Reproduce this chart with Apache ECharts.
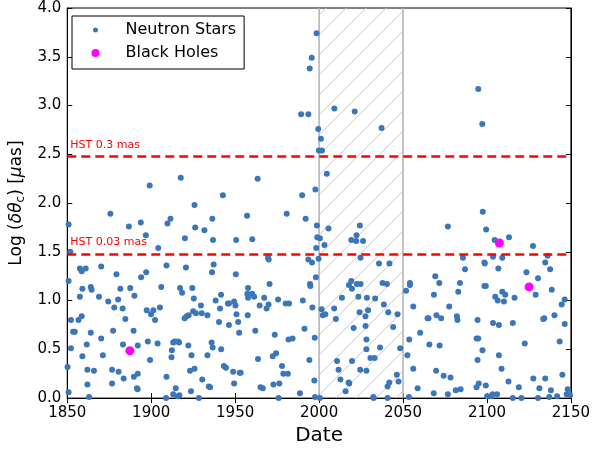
<!DOCTYPE html>
<html>
<head>
<meta charset="utf-8">
<script src="https://cdn.jsdelivr.net/npm/echarts@6/dist/echarts.min.js"></script>
<style>
  html, body { margin: 0; padding: 0; background: #fff; }
  #chart { width: 593px; height: 451px; }
</style>
</head>
<body>
<div id="chart"></div>
<script>
// neutron stars: date, log(dtheta_c)
const nsDate = [
  1875.7, 1850.8, 1893.8, 1886.7, 1909.7, 1896.8, 1904.2, 1851.8, 1857.5, 1861.0,
  1858.6, 1870.2, 1879.3, 1909.1, 1850.8, 1897.0, 1894.0, 1864.0, 1859.0, 1864.5,
  1906.0, 1881.6, 1887.5, 1857.5, 1868.9, 1890.0, 1874.4, 1880.3, 1878.0, 1883.0,
  1905.2, 1897.3, 1901.3, 1899.9, 1902.3, 1884.6, 1858.6, 1856.7, 1852.2, 1853.5,
  1854.5, 1864.0, 1877.3, 1889.5, 1870.2, 1861.6, 1883.2, 1892.0, 1898.0, 1903.8,
  1852.2, 1871.2, 1859.0, 1899.3, 1862.0, 1865.9, 1876.7, 1880.6, 1892.0, 1889.7,
  1883.6, 1909.1, 1862.0, 1876.7, 1891.5, 1891.9, 1850.8, 1863.0, 1850.2,
  1942.7, 1925.8, 1911.5, 1957.1, 1936.4, 1926.2, 1931.7, 1920.1, 1936.8, 1950.6,
  1960.2, 1969.6, 1970.0, 1920.7, 1937.2, 1936.2, 1950.4, 1917.2, 1918.4, 1924.5,
  1957.7, 1970.5, 1957.3, 1960.2, 1957.7, 1961.3, 1967.3, 1925.4, 1938.4, 1941.6,
  1945.7, 1946.3, 1949.4, 1950.2, 1929.6, 1941.0, 1964.6, 1969.9, 1968.7, 1925.0,
  1926.6, 1930.1, 1933.5, 1922.3, 1921.1, 1919.9, 1950.8, 1957.5, 1940.4, 1946.3,
  1951.8, 1952.4, 1962.0, 1913.1, 1914.0, 1916.0, 1916.6, 1922.1, 1936.0, 1936.6,
  1941.7, 1912.3, 1912.1, 1924.0, 1933.5, 1963.6, 1943.3, 1944.5, 1923.1, 1925.8,
  1948.8, 1952.7, 1953.3, 1930.4, 1949.4, 1934.3, 1935.1, 1914.6, 1923.7, 1965.1,
  1966.5, 1913.1, 1915.8, 1916.8, 1928.4, 1908.9,
  1989.9, 1997.8, 1980.7, 1992.0, 1998.7, 2005.6, 2024.3, 2022.3, 2019.2, 2022.1,
  2026.2, 1998.9, 2000.5, 2003.2, 1998.3, 1993.6, 1995.8, 1999.7, 2024.7, 1998.1,
  1994.6, 1994.8, 2019.2, 2017.8, 2019.6, 2022.5, 2024.7, 1975.6, 1990.3, 2013.6,
  2023.4, 2028.5, 2033.4, 1980.1, 1982.1, 1996.0, 2001.5, 2002.2, 2003.7, 2009.0,
  2010.0, 2024.1, 2029.2, 2027.6, 2027.7, 1973.6, 1991.3, 2020.6, 1997.4, 1981.8,
  1984.2, 2028.2, 1974.4, 1972.4, 2028.2, 2030.6, 1994.2, 2010.7, 2019.6, 1977.9,
  2011.6, 2024.5, 2028.2, 1978.7, 1981.4, 1972.8, 1976.3, 1997.2, 2012.7, 2017.6,
  2018.0, 1988.6, 2015.8, 1997.6, 2000.5, 2032.3, 1975.9,
  2076.7, 2035.7, 2041.9, 2085.7, 2086.9, 2037.8, 2040.4, 2069.2, 2071.6, 2083.9,
  2054.1, 2054.1, 2051.8, 2068.4, 2082.9, 2038.6, 2056.1, 2077.5, 2041.2, 2046.7,
  2064.6, 2065.2, 2069.9, 2072.7, 2082.1, 2082.4, 2094.4, 2044.1, 2060.2, 2053.7,
  2065.7, 2071.8, 2093.8, 2094.8, 2036.3, 2048.3, 2033.1, 2052.6, 2094.4, 2056.1,
  2069.7, 2074.2, 2078.3, 2046.3, 2047.3, 2041.8, 2040.8, 2058.7, 2068.3, 2076.7,
  2081.4, 2084.3, 2093.8, 2095.1, 2053.5, 2032.5, 2040.8,
  2097.5, 2099.5, 2104.6, 2113.1, 2127.4, 2136.1, 2134.7, 2137.6, 2103.6, 2109.1,
  2098.5, 2098.7, 2106.8, 2123.5, 2130.4, 2098.5, 2099.3, 2138.6, 2109.1, 2110.9,
  2129.0, 2104.9, 2106.4, 2110.1, 2116.4, 2146.3, 2144.5, 2140.2, 2133.5, 2134.1,
  2103.6, 2107.1, 2115.4, 2146.3, 2122.5, 2143.3, 2097.3, 2107.1, 2108.7, 2112.8,
  2127.6, 2134.7, 2144.9, 2099.3, 2119.0, 2131.2, 2138.1, 2148.1, 2100.1, 2102.7,
  2103.3, 2106.0, 2115.4, 2120.5, 2130.4, 2137.1, 2141.8, 2147.5, 2149.5,
  1899.1, 1917.6, 1963.4, 1989.3, 1993.6, 1994.4, 1995.6, 1998.5, 2009.1, 2021.2,
  1999.5, 2001.1, 1999.9, 2001.7, 2037.2, 2094.8, 2097.2, 2004.6
];
const nsLog = [
  1.89, 1.78, 1.80, 1.76, 1.79, 1.67, 1.54, 1.50, 1.33, 1.33,
  1.30, 1.35, 1.27, 1.36, 1.20, 1.29, 1.24, 1.14, 1.12, 1.11,
  1.14, 1.12, 1.13, 1.04, 1.04, 1.05, 0.99, 1.01, 0.93, 0.92,
  0.93, 0.90, 0.90, 0.86, 0.80, 0.81, 0.84, 0.80, 0.80, 0.68,
  0.68, 0.67, 0.69, 0.69, 0.61, 0.55, 0.55, 0.54, 0.58, 0.56,
  0.51, 0.44, 0.43, 0.39, 0.29, 0.28, 0.29, 0.27, 0.25, 0.22,
  0.20, 0.22, 0.14, 0.15, 0.10, 0.09, 0.06, 0.01, 0.32,
  2.08, 1.98, 1.84, 1.87, 1.84, 1.75, 1.72, 1.64, 1.62, 1.62,
  1.63, 1.44, 1.42, 1.34, 1.37, 1.29, 1.27, 1.13, 1.08, 1.13,
  1.13, 1.17, 1.07, 1.07, 1.03, 1.04, 1.03, 1.02, 1.00, 1.06,
  0.97, 0.97, 0.99, 0.95, 0.95, 0.92, 0.95, 0.96, 0.92, 0.89,
  0.87, 0.87, 0.85, 0.85, 0.84, 0.82, 0.86, 0.85, 0.78, 0.75,
  0.78, 0.67, 0.69, 0.57, 0.58, 0.58, 0.57, 0.54, 0.57, 0.52,
  0.50, 0.49, 0.42, 0.44, 0.44, 0.40, 0.33, 0.31, 0.28, 0.30,
  0.27, 0.26, 0.26, 0.19, 0.15, 0.12, 0.11, 0.10, 0.07, 0.11,
  0.10, 0.04, 0.02, 0.03, 0.00, 0.00,
  2.08, 2.14, 1.89, 1.84, 1.77, 1.74, 1.77, 1.67, 1.62, 1.61,
  1.61, 1.65, 1.64, 1.57, 1.54, 1.42, 1.39, 1.43, 1.44, 1.24,
  1.17, 1.15, 1.20, 1.16, 1.12, 1.17, 1.17, 1.01, 1.00, 1.03,
  1.04, 1.03, 1.02, 0.97, 0.97, 0.93, 0.91, 0.85, 0.86, 0.92,
  0.81, 0.88, 0.90, 0.84, 0.74, 0.65, 0.71, 0.72, 0.62, 0.60,
  0.61, 0.60, 0.46, 0.43, 0.50, 0.41, 0.39, 0.38, 0.38, 0.33,
  0.29, 0.29, 0.28, 0.25, 0.25, 0.14, 0.15, 0.18, 0.19, 0.16,
  0.15, 0.05, 0.07, 0.01, 0.00, 0.01, 0.00,
  1.76, 1.38, 1.38, 1.44, 1.32, 1.18, 1.17, 1.25, 1.18, 1.18,
  1.18, 1.16, 1.10, 1.06, 1.09, 0.96, 0.94, 0.94, 0.88, 0.86,
  0.82, 0.82, 0.85, 0.82, 0.84, 0.80, 0.80, 0.73, 0.67, 0.60,
  0.55, 0.54, 0.61, 0.61, 0.52, 0.51, 0.41, 0.44, 0.39, 0.30,
  0.28, 0.23, 0.21, 0.24, 0.17, 0.16, 0.12, 0.10, 0.05, 0.04,
  0.08, 0.09, 0.11, 0.15, 0.01, 0.00, 0.00,
  1.91, 1.73, 1.62, 1.65, 1.56, 1.46, 1.39, 1.32, 1.45, 1.44,
  1.39, 1.38, 1.33, 1.29, 1.23, 1.15, 1.15, 1.11, 1.09, 1.06,
  1.06, 1.04, 1.00, 0.99, 1.03, 1.01, 0.96, 0.85, 0.81, 0.82,
  0.77, 0.75, 0.77, 0.76, 0.56, 0.58, 0.49, 0.44, 0.30, 0.17,
  0.20, 0.20, 0.24, 0.13, 0.11, 0.10, 0.08, 0.09, 0.02, 0.02,
  0.04, 0.04, 0.00, 0.00, 0.00, 0.01, 0.02, 0.04, 0.03,
  2.18, 2.26, 2.25, 2.91, 2.91, 3.38, 3.49, 3.74, 2.97, 2.94,
  2.76, 2.66, 2.54, 2.54, 2.77, 3.17, 2.81, 2.30
];

// black holes
const bhDate = [1887.3, 2107.4, 2125.1];
const bhLog = [0.485, 1.59, 1.14];

// HST limits (log of 0.3 mas and 0.03 mas in uas)
const hstNames = ['HST 0.3 mas', 'HST 0.03 mas'];
const hstLevels = [2.477, 1.477];

// the shaded span of dates
const spanDates = [[2000, 2050]];

const FONT = 'DejaVu Sans';

/**
 * diagonal hatching over the span, clipped to its box
 */
const renderHatch = (params, api) => {
  const topLeft = api.coord([api.value(0), 4]);
  const bottomRight = api.coord([api.value(1), 0]);
  const x0 = topLeft[0], y0 = topLeft[1];
  const x1 = bottomRight[0], y1 = bottomRight[1];
  const children = [];
  for (let c = x0 + y0 + 7; c < x1 + y1; c += 20) {
    const sx = Math.max(x0, c - y1);
    const ex = Math.min(x1, c - y0);
    if (ex > sx) {
      children.push({
        type: 'line',
        shape: { x1: sx, y1: c - sx, x2: ex, y2: c - ex },
        style: { stroke: '#c8c8c8', lineWidth: 1 }
      });
    }
  }
  [x0, x1].forEach((x) => {
    children.push({
      type: 'line',
      shape: { x1: x, y1: y0, x2: x, y2: y1 },
      style: { stroke: '#b0b0b0', lineWidth: 1.5 }
    });
  });
  return { type: 'group', children };
};

const chart = echarts.init(document.getElementById('chart'));

const axisCommon = {
  type: 'value',
  axisLine: { show: true, lineStyle: { color: '#000', width: 1 } },
  axisTick: { show: true, inside: true, length: 5, lineStyle: { color: '#000' } },
  splitLine: { show: false }
};

chart.setOption({
  animation: false,
  textStyle: { fontFamily: FONT },
  grid: {
    left: 63, right: 21, top: 8, bottom: 50,
    show: true, borderColor: '#000', borderWidth: 1
  },
  legend: {
    orient: 'vertical',
    left: 72, top: 16,
    padding: [6, 8, 8, 18],
    itemWidth: 8, itemHeight: 8,
    itemGap: 7,
    backgroundColor: '#fff',
    borderColor: '#000', borderWidth: 1, borderRadius: 0,
    formatter: (name) => '{g|}{t|' + name + '}',
    textStyle: {
      fontFamily: FONT, fontSize: 16, color: '#000', lineHeight: 16,
      rich: {
        g: { width: 21 },
        t: { fontFamily: FONT, fontSize: 16, color: '#000', lineHeight: 16 }
      }
    },
    data: [
      { name: 'Neutron Stars', icon: 'circle', itemStyle: { borderColor: '#fff', borderWidth: 3 } },
      { name: 'Black Holes', icon: 'circle' }
    ]
  },
  xAxis: [
    Object.assign({}, axisCommon, {
      position: 'bottom',
      min: 1850, max: 2150, interval: 50,
      axisLabel: {
        fontSize: 15, color: '#000', margin: 8, fontFamily: FONT,
        formatter: (v) => String(v)
      },
      name: 'Date', nameLocation: 'middle', nameGap: 26,
      nameTextStyle: { fontSize: 20, color: '#000', fontFamily: FONT }
    }),
    Object.assign({}, axisCommon, {
      position: 'top',
      min: 1850, max: 2150, interval: 50,
      axisLabel: { show: false }
    })
  ],
  yAxis: [
    Object.assign({}, axisCommon, {
      position: 'left',
      min: 0, max: 4, interval: 0.5,
      axisLabel: {
        fontSize: 15, color: '#000', margin: 6, fontFamily: FONT,
        formatter: (v) => v.toFixed(1)
      },
      name: 'Log ({i|δθ}{s|c}) [{i|μ}as]',
      nameLocation: 'middle', nameGap: 33, nameRotate: 90,
      nameTextStyle: {
        fontSize: 17, color: '#000', fontFamily: FONT,
        rich: {
          i: { fontSize: 17, fontStyle: 'italic', color: '#000', fontFamily: FONT },
          s: { fontSize: 12, color: '#000', fontFamily: FONT, padding: [8, 0, 0, 0] }
        }
      }
    }),
    Object.assign({}, axisCommon, {
      position: 'right',
      min: 0, max: 4, interval: 0.5,
      axisLabel: { show: false }
    })
  ],
  series: [
    {
      type: 'custom',
      name: 'span',
      silent: true,
      z: 1,
      renderItem: renderHatch,
      dimensions: ['start', 'end'],
      encode: { x: ['start', 'end'] },
      data: spanDates
    },
    {
      type: 'scatter',
      name: 'Neutron Stars',
      z: 2,
      symbolSize: 6,
      itemStyle: { color: '#3b76ba', opacity: 1 },
      data: nsDate.map((d, i) => [d, nsLog[i]]),
      markLine: {
        silent: true,
        symbol: 'none',
        z: 5,
        lineStyle: { color: '#ff0000', type: [9, 5], width: 2.5 },
        label: {
          position: 'insideStartTop',
          distance: [3, 6],
          color: '#ff0000',
          fontSize: 11,
          fontFamily: FONT,
          formatter: (p) => p.name
        },
        data: hstLevels.map((v, i) => ({ yAxis: v, name: hstNames[i] }))
      }
    },
    {
      type: 'scatter',
      name: 'Black Holes',
      z: 3,
      symbolSize: 9,
      itemStyle: { color: '#ff00ff', opacity: 1 },
      data: bhDate.map((d, i) => [d, bhLog[i]])
    }
  ]
});
</script>
</body>
</html>
